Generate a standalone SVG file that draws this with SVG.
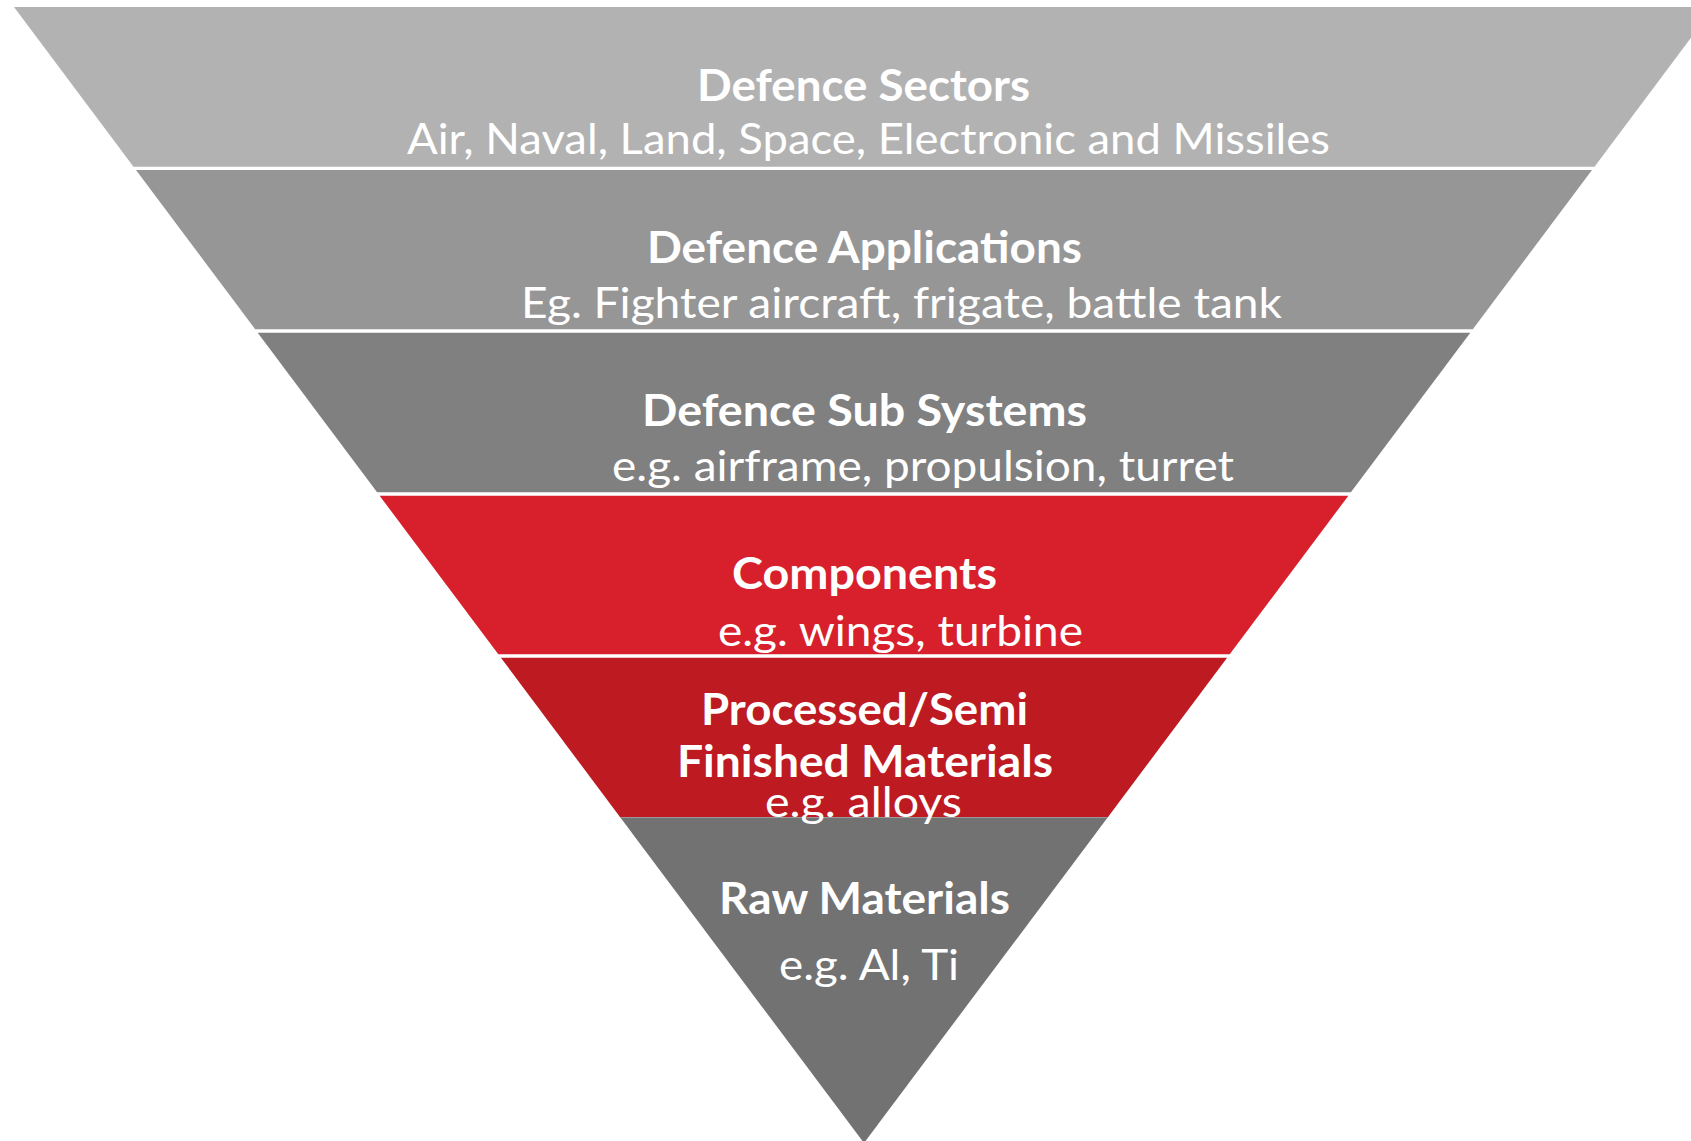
<svg xmlns="http://www.w3.org/2000/svg" width="1691" height="1141" viewBox="0 0 1691 1141">
<style>
text{font-family:Lato,"Open Sans","Liberation Sans",sans-serif;fill:#FFFFFF;font-size:43px}
.t{font-weight:bold}
.s{font-weight:normal}
</style>
<rect x="0" y="0" width="1691" height="1141" fill="#FFFFFF"/>
<g id="band-defence-sectors">
<polygon points="14,7 1714,7 1594.5,166.7 133.5,166.7" fill="#B2B2B2"/>
<text class="t" x="697" y="101" textLength="333" lengthAdjust="spacingAndGlyphs">Defence Sectors</text>
<text class="s" x="407" y="154" textLength="923" lengthAdjust="spacingAndGlyphs">Air, Naval, Land, Space, Electronic and Missiles</text>
</g>
<g id="band-defence-applications">
<polygon points="136,170 1592,170 1472.8,329.3 255.2,329.3" fill="#969696"/>
<text class="t" x="647" y="263" textLength="435" lengthAdjust="spacingAndGlyphs">Defence Applications</text>
<text class="s" x="521" y="318" textLength="761" lengthAdjust="spacingAndGlyphs">Eg. Fighter aircraft, frigate, battle tank</text>
</g>
<g id="band-defence-sub-systems">
<polygon points="257.7,332.7 1470.3,332.7 1350.9,492.3 377.1,492.3" fill="#808080"/>
<text class="t" x="642" y="426" textLength="445" lengthAdjust="spacingAndGlyphs">Defence Sub Systems</text>
<text class="s" x="612" y="481" textLength="622" lengthAdjust="spacingAndGlyphs">e.g. airframe, propulsion, turret</text>
</g>
<g id="band-components">
<polygon points="379.6,495.7 1348.4,495.7 1229.7,654.3 498.3,654.3" fill="#D81F2C"/>
<text class="t" x="732" y="589" textLength="265" lengthAdjust="spacingAndGlyphs">Components</text>
<text class="s" x="718" y="646" textLength="365" lengthAdjust="spacingAndGlyphs">e.g. wings, turbine</text>
</g>
<g id="band-processed-materials">
<polygon points="500.9,657.7 1227.1,657.7 1108,817 620,817" fill="#BD1A22"/>
</g>
<g id="band-raw-materials">
<polygon points="620,817 1108,817 864,1143" fill="#727272"/>
<line x1="620" y1="817.5" x2="1108" y2="817.5" stroke="#9A9A9A" stroke-width="1"/>
<text class="t" x="719" y="914" textLength="291" lengthAdjust="spacingAndGlyphs">Raw Materials</text>
<text class="s" x="779" y="980" textLength="180" lengthAdjust="spacingAndGlyphs">e.g. Al, Ti</text>
</g>
<g id="band-processed-materials-text">
<text class="t" x="701" y="725" textLength="327" lengthAdjust="spacingAndGlyphs">Processed/Semi</text>
<text class="t" x="677" y="777" textLength="376" lengthAdjust="spacingAndGlyphs">Finished Materials</text>
<text class="s" x="765" y="817" textLength="197" lengthAdjust="spacingAndGlyphs">e.g. alloys</text>
</g>
<g id="connectors"></g>
</svg>
